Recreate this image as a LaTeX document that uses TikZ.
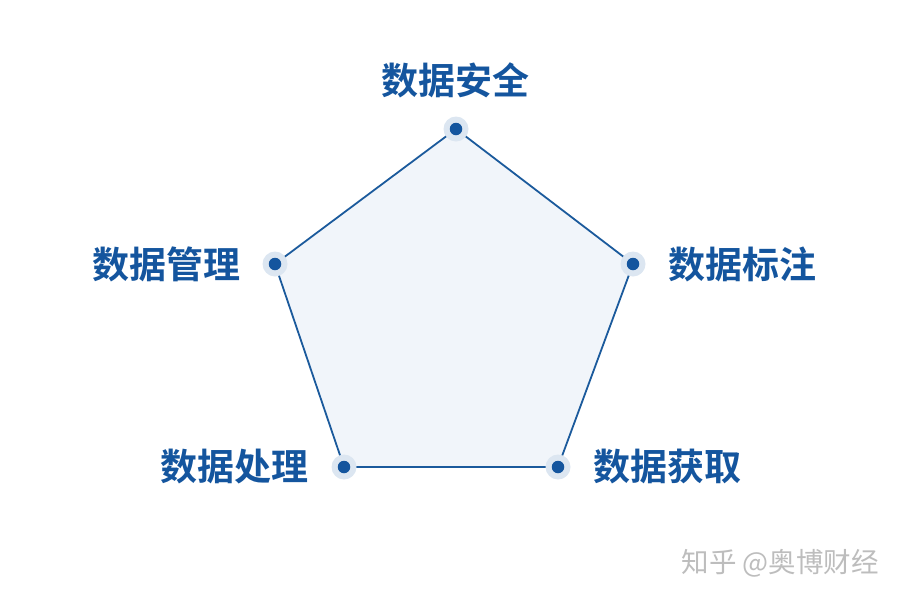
\documentclass[tikz,border=0pt]{standalone}
\usepackage{fontspec}
\usepackage{tikz}
\usetikzlibrary{positioning}
\newfontfamily\cjk{Noto Sans CJK SC}
\newfontfamily\cjkbold{Noto Sans CJK SC Bold}
\definecolor{edgeblue}{HTML}{1B5A9C}
\definecolor{dotblue}{HTML}{14559E}
\definecolor{haloblue}{HTML}{DCE6F1}
\definecolor{fillblue}{HTML}{F1F5FA}
\definecolor{marktxt}{HTML}{BDBDBD}
\tikzset{
  lab/.style={text=dotblue,font=\cjkbold\fontsize{37}{37}\selectfont,inner sep=0pt},
  halo/.style={circle,fill=haloblue,minimum size=25pt,inner sep=0pt},
  dot/.style={circle,fill=dotblue,minimum size=12.5pt,inner sep=0pt}
}
\begin{document}
\begin{tikzpicture}[x=1pt,y=-1pt]
    \useasboundingbox (0,0) rectangle (900,600);
    \coordinate (anquan) at (456,129);
    \coordinate (biaozhu) at (633,264);
    \coordinate (huoqu) at (558,467);
    \coordinate (chuli) at (344,467);
    \coordinate (guanli) at (275,264);
    \draw[edgeblue,line width=1.8pt,fill=fillblue,line join=round]
      (anquan) -- (biaozhu) -- (huoqu) -- (chuli) -- (guanli) -- cycle;
    \foreach \v in {anquan,biaozhu,huoqu,chuli,guanli}{
      \node[halo] at (\v) {};
      \node[dot] at (\v) {};
    }
    \node[lab] (lanquan) at (455,80) {数据安全};
    \node[lab] (lbiaozhu) at (742,264) {数据标注};
    \node[lab] (lhuoqu) at (667,467) {数据获取};
    \node[lab] (lchuli) at (234,467) {数据处理};
    \node[lab] (lguanli) at (166,264) {数据管理};
    \node[text=marktxt,font=\cjk\fontsize{27.5}{27.5}\selectfont,inner sep=0pt,anchor=east] (mark) at (879,563) {知乎 @奥博财经};
\end{tikzpicture}
\end{document}
